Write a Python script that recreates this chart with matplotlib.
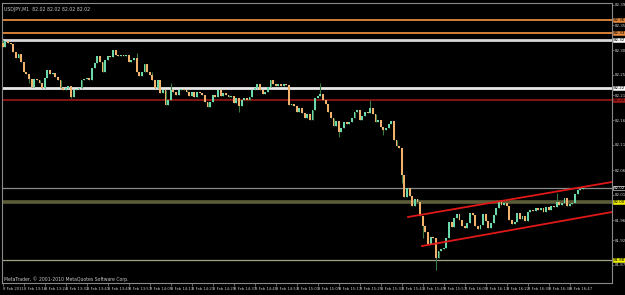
import matplotlib
matplotlib.use('Agg')
import matplotlib.pyplot as plt
import matplotlib.transforms as mtransforms

symbol = "USDJPY,M1"
first_open = 82.314
closes = [
    82.306, 82.318, 82.314, 82.312, 82.296, 82.284, 82.292, 82.276, 82.256, 82.252,
    82.242, 82.226, 82.242, 82.240, 82.234, 82.224, 82.244, 82.260, 82.252, 82.254,
    82.246, 82.240, 82.224, 82.220, 82.224, 82.228, 82.206, 82.220, 82.222, 82.224,
    82.240, 82.242, 82.244, 82.240, 82.264, 82.274, 82.288, 82.276, 82.256, 82.280,
    82.288, 82.286, 82.300, 82.290, 82.288, 82.290, 82.288, 82.290, 82.276, 82.280,
    82.284, 82.256, 82.248, 82.256, 82.272, 82.256, 82.250, 82.240, 82.224, 82.240,
    82.214, 82.220, 82.190, 82.200, 82.220, 82.216, 82.210, 82.220, 82.222, 82.220,
    82.216, 82.208, 82.216, 82.206, 82.216, 82.214, 82.210, 82.196, 82.186, 82.196,
    82.210, 82.206, 82.220, 82.208, 82.214, 82.210, 82.206, 82.208, 82.194, 82.204,
    82.188, 82.200, 82.204, 82.200, 82.206, 82.220, 82.224, 82.232, 82.220, 82.212,
    82.216, 82.226, 82.240, 82.232, 82.228, 82.232, 82.228, 82.232, 82.230, 82.190,
    82.192, 82.188, 82.176, 82.184, 82.174, 82.164, 82.172, 82.160, 82.180, 82.204,
    82.208, 82.212, 82.200, 82.192, 82.176, 82.164, 82.148, 82.158, 82.136, 82.144,
    82.156, 82.152, 82.156, 82.164, 82.176, 82.180, 82.160, 82.168, 82.176, 82.174,
    82.184, 82.172, 82.156, 82.160, 82.146, 82.140, 82.144, 82.152, 82.158, 82.120,
    82.108, 82.104, 82.050, 82.006, 82.024, 82.008, 81.988, 82.002, 81.996, 81.968,
    81.948, 81.936, 81.912, 81.926, 81.924, 81.884, 81.898, 81.902, 81.904, 81.924,
    81.956, 81.946, 81.964, 81.972, 81.960, 81.948, 81.944, 81.954, 81.974, 81.970,
    81.948, 81.942, 81.950, 81.972, 81.958, 81.944, 81.954, 81.970, 81.984, 81.998,
    81.990, 81.994, 81.988, 81.960, 81.952, 81.956, 81.974, 81.962, 81.968, 81.958,
    81.976, 81.980, 81.978, 81.984, 81.980, 81.984, 81.976, 81.986, 81.980, 81.988,
    81.986, 81.996, 81.990, 81.994, 82.004, 81.988, 81.992, 81.994, 82.012, 82.020,
    82.022, 82.024,
]
high_extra = {0: 82.320, 51: 82.294, 57: 82.256, 64: 82.234, 121: 82.234,
              140: 82.200, 211: 82.014}
low_extra = {10: 82.234, 26: 82.204, 90: 82.176, 128: 82.126, 145: 82.130,
             152: 82.034, 160: 81.924, 165: 81.860}

time_labels = ["8 Feb 2011", "8 Feb 13:16", "8 Feb 13:24", "8 Feb 13:32", "8 Feb 13:41",
               "8 Feb 13:49", "8 Feb 13:57", "8 Feb 14:05", "8 Feb 14:13", "8 Feb 14:21",
               "8 Feb 14:29", "8 Feb 14:37", "8 Feb 14:45", "8 Feb 14:53", "8 Feb 15:01",
               "8 Feb 15:09", "8 Feb 15:17", "8 Feb 15:25", "8 Feb 15:33", "8 Feb 15:41",
               "8 Feb 15:49", "8 Feb 15:57", "8 Feb 16:05", "8 Feb 16:13", "8 Feb 16:22",
               "8 Feb 16:30", "8 Feb 16:38", "8 Feb 16:47"]
bars_per_label = 8

price_ticks = [81.87, 81.92, 81.96, 82.01, 82.06, 82.11, 82.16, 82.21, 82.25, 82.30,
               82.35, 82.39]

level_prices = [82.360, 82.334, 82.320, 82.224, 82.200, 82.024, 81.996, 81.880]
level_colors = ['#E58A3C', '#E58A3C', '#D8D8D8', '#E8E8E8', '#8E1414', '#8A8A8A',
                '#5C5C38', '#A3A388']
level_widths = [1.3, 1.3, 2.0, 2.0, 1.3, 0.9, 2.6, 0.9]
level_box_face = ['#E58A3C', '#E58A3C', '#FFFFFF', '#FFFFFF', '#A01818', '#000000',
                  '#F2F200', '#F2F200']
level_box_edge = ['#E58A3C', '#E58A3C', '#FFFFFF', '#FFFFFF', '#A01818', '#FFFFFF',
                  '#F2F200', '#F2F200']
level_box_text = ['#000000', '#000000', '#000000', '#000000', '#000000', '#FFFFFF',
                  '#000000', '#000000']

channel_upper_x = [154.4, 232.1]
channel_upper_y = [81.966, 82.036]
channel_lower_x = [159.7, 232.1]
channel_lower_y = [81.908, 81.976]

bull_color = '#6AD8AA'
bear_color = '#F2B26E'
wick_color = '#3A7A40'
grid_gray = '#8A8A8A'
text_gray = '#C8C8C8'

W, H = 625, 295
fig = plt.figure(figsize=(W / 100, H / 100), dpi=100, facecolor='black')
ax = fig.add_axes([2 / W, 12 / H, 610 / W, 280 / H])
ax.set_facecolor('black')

n = len(closes)
opens = [first_open] + closes[:-1]
xs = list(range(n))
highs = [high_extra.get(i, max(opens[i], closes[i])) for i in xs]
lows = [low_extra.get(i, min(opens[i], closes[i])) for i in xs]

# wicks
ax.vlines(xs, lows, highs, color=wick_color, lw=0.8, zorder=2)

# bodies
min_h = 0.0018
for i in xs:
    o, c = opens[i], closes[i]
    h = abs(c - o)
    if h < 0.001:
        col = wick_color
        h = min_h * 0.6
        b = min(o, c) - h / 2
    else:
        col = bull_color if c > o else bear_color
        b = min(o, c)
    ax.bar(i, h, bottom=b, width=0.72, color=col, edgecolor='none', zorder=3)

# horizontal levels
for p, col, lw in zip(level_prices, level_colors, level_widths):
    ax.axhline(p, color=col, lw=lw, zorder=1.5)

# channel lines
ax.plot(channel_upper_x, channel_upper_y, color='#E01818', lw=1.3, zorder=4)
ax.plot(channel_lower_x, channel_lower_y, color='#E01818', lw=1.3, zorder=4)

ax.set_xlim(-0.3, 232.1)
ax.set_ylim(81.834, 82.394)

# axes styling
for s in ax.spines.values():
    s.set_color(grid_gray)
    s.set_linewidth(0.8)

ax.yaxis.tick_right()
ax.set_yticks(price_ticks)
ax.set_yticklabels([f"{t:.2f}" for t in price_ticks])
ax.tick_params(axis='y', colors=text_gray, labelsize=2.9, length=1.5, width=0.5,
               pad=0.8, direction='out')
ax.tick_params(axis='y', color=grid_gray)

tick_pos = [i * bars_per_label for i in range(len(time_labels))]
ax.set_xticks(tick_pos)
ax.set_xticklabels(time_labels)
ax.tick_params(axis='x', colors=text_gray, labelsize=2.7, length=2, width=0.5,
               pad=0.8, direction='out')
ax.tick_params(axis='x', color=grid_gray)
for lbl in ax.get_xticklabels():
    lbl.set_ha('left')

# level value boxes on the price scale
trans = mtransforms.blended_transform_factory(ax.transAxes, ax.transData)
for p, fc, ec, tc in zip(level_prices, level_box_face, level_box_edge, level_box_text):
    ax.text(1.003, p, f"{p:.2f}", transform=trans, fontsize=2.9, color=tc,
            va='center', ha='left', zorder=6, clip_on=False,
            bbox=dict(boxstyle='square,pad=0.1', facecolor=fc, edgecolor=ec, lw=0.4))

# header and copyright text
last = n - 1
ax.text(0.004, 0.985, f"{symbol}  {opens[last]:.2f} {highs[last]:.2f} {lows[last]:.2f} {closes[last]:.2f}",
        transform=ax.transAxes, fontsize=3.3, color=text_gray, va='top', ha='left')
ax.text(0.003, 0.005, "MetaTrader, \u00a9 2001-2010 MetaQuotes Software Corp.",
        transform=ax.transAxes, fontsize=3.3, color=text_gray, va='bottom', ha='left')

fig.savefig('out.png', dpi=100, facecolor='black')
